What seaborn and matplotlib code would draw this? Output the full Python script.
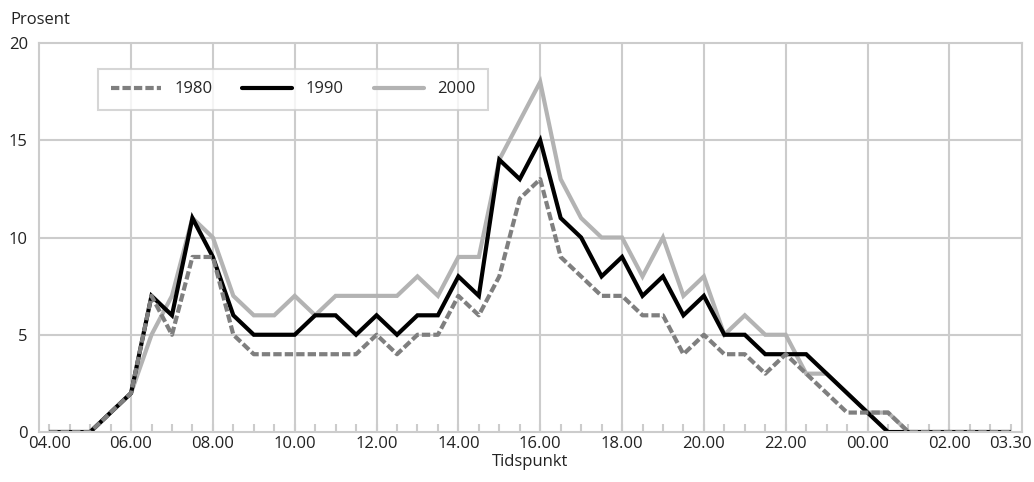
import matplotlib
matplotlib.use("Agg")
import matplotlib.pyplot as plt
import seaborn as sns
import pandas as pd
import numpy as np

# half-hour slots from 04.00 to 03.30 next day
times = ["%02d.%02d" % (((4 * 60 + 30 * i) // 60) % 24, (30 * i) % 60) for i in range(48)]

share_1980 = [0, 0, 0, 1, 2, 7, 5, 9, 9, 5, 4, 4, 4, 4, 4, 4, 5, 4, 5, 5,
              7, 6, 8, 12, 13, 9, 8, 7, 7, 6, 6, 4, 5, 4, 4, 3, 4, 3, 2, 1,
              1, 1, 0, 0, 0, 0, 0, 0]
share_1990 = [0, 0, 0, 1, 2, 7, 6, 11, 9, 6, 5, 5, 5, 6, 6, 5, 6, 5, 6, 6,
              8, 7, 14, 13, 15, 11, 10, 8, 9, 7, 8, 6, 7, 5, 5, 4, 4, 4, 3, 2,
              1, 0, 0, 0, 0, 0, 0, 0]
share_2000 = [0, 0, 0, 1, 2, 5, 7, 11, 10, 7, 6, 6, 7, 6, 7, 7, 7, 7, 8, 7,
              9, 9, 14, 16, 18, 13, 11, 10, 10, 8, 10, 7, 8, 5, 6, 5, 5, 3, 3, 2,
              1, 1, 0, 0, 0, 0, 0, 0]

shown = list(range(0, 46, 4)) + [47]
tick_labels = [t if i in shown else "" for i, t in enumerate(times)]

df = pd.DataFrame({"slot": np.arange(len(times)), "1980": share_1980,
                   "1990": share_1990, "2000": share_2000})

sns.set_style("white")
plt.rcParams["font.family"] = ["Open Sans", "DejaVu Sans"]
plt.rcParams["xtick.bottom"] = True
grid_col = "#cccccc"
dash = (2.0, 0.75)

fig = plt.figure(figsize=(10.34, 4.82), dpi=100)
ax = fig.add_axes([0.0377, 0.1037, 0.9507, 0.8071])

# draw 2000 first, 1980 on top
sns.lineplot(data=df, x="slot", y="2000", ax=ax, color="#b3b3b3", lw=3.0, label="2000")
sns.lineplot(data=df, x="slot", y="1990", ax=ax, color="black", lw=3.0, label="1990")
sns.lineplot(data=df, x="slot", y="1980", ax=ax, color="#7f7f7f", lw=3.0, label="1980")
lines = ax.get_lines()
lines[2].set_dashes(dash)
lines[2].set_dash_capstyle("butt")
for ln in lines:
    ln.set_solid_capstyle("butt")
    ln.set_solid_joinstyle("miter")

ax.set_xlim(-0.5, 47.55)
ax.set_ylim(0, 20)
ax.set_yticks([0, 5, 10, 15, 20])
ax.set_xticks(np.arange(len(times)))
ax.set_xticklabels(tick_labels)

for v in range(4, 46, 4):
    ax.axvline(v, color=grid_col, lw=1.5, zorder=0)
for v in [5, 10, 15]:
    ax.axhline(v, color=grid_col, lw=1.5, zorder=0)

for sp in ax.spines.values():
    sp.set_color(grid_col)
    sp.set_linewidth(1.5)

ax.tick_params(axis="y", length=0, pad=8, labelsize=12, labelcolor="#222222")
ax.tick_params(axis="x", bottom=True, direction="in", length=6, width=1.5, color=grid_col,
               pad=3, labelsize=12, labelcolor="#222222")

ax.set_ylabel("")
ax.set_xlabel("Tidspunkt", fontsize=12, labelpad=1, color="#222222")
fig.text(0.01, 0.958, "Prosent", fontsize=12, va="center", ha="left", color="#222222")

h, lab = ax.get_legend_handles_labels()
order = [lab.index("1980"), lab.index("1990"), lab.index("2000")]
leg = ax.legend([h[i] for i in order], [lab[i] for i in order], loc="upper left",
                bbox_to_anchor=(0.052, 0.955), ncol=3, frameon=True, fancybox=False,
                edgecolor=grid_col, fontsize=12, handlelength=3.0, handletextpad=0.8,
                columnspacing=1.8, borderpad=0.75)
leg.get_frame().set_linewidth(1.5)
for ln in leg.get_lines():
    ln.set_linewidth(3.0)
    ln.set_solid_capstyle("round")
leg.get_lines()[0].set_dashes(dash)
leg.get_lines()[0].set_dash_capstyle("butt")

fig.savefig("out.png", dpi=100)
